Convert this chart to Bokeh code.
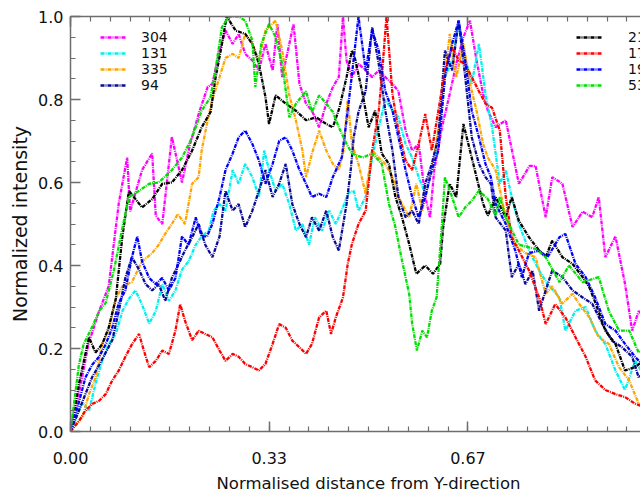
from bokeh.plotting import figure
from bokeh.models import (Range1d, FixedTicker, LinearAxis, Legend, LegendItem,
                          CustomJSTickFormatter, Title)
from bokeh.embed import file_html
from bokeh.resources import INLINE

# ---- profiles along the normalised distance (x) -------------------------
x_304 = [0.000, 0.014, 0.030, 0.048, 0.064, 0.081, 0.095, 0.100, 0.120, 0.137,
         0.143, 0.154, 0.170, 0.187, 0.200, 0.216, 0.230, 0.238, 0.250, 0.260,
         0.272, 0.282, 0.293, 0.305, 0.316, 0.327, 0.339, 0.347, 0.355, 0.367,
         0.374, 0.384, 0.395, 0.405, 0.417, 0.429, 0.440, 0.450, 0.457, 0.463,
         0.472, 0.483, 0.495, 0.506, 0.517, 0.528, 0.540, 0.550, 0.562, 0.573,
         0.584, 0.595, 0.603, 0.610, 0.623, 0.636, 0.647, 0.659, 0.670, 0.681,
         0.692, 0.700, 0.713, 0.730, 0.752, 0.770, 0.780, 0.797, 0.808, 0.825,
         0.842, 0.859, 0.875, 0.886, 0.897, 0.914, 0.930, 0.942, 0.953, 0.960]
y_304 = [0.000, 0.090, 0.210, 0.290, 0.350, 0.550, 0.660, 0.530, 0.630, 0.670,
         0.520, 0.500, 0.710, 0.600, 0.690, 0.770, 0.830, 0.838, 0.918, 0.966,
         0.934, 0.958, 0.910, 0.894, 0.870, 0.934, 0.870, 0.982, 0.854, 0.934,
         0.982, 0.838, 0.790, 0.773, 0.733, 0.790, 0.830, 0.854, 1.000, 0.894,
         0.854, 0.886, 0.870, 0.854, 0.870, 0.854, 0.838, 0.820, 0.725, 0.677,
         0.693, 0.565, 0.516, 0.630, 0.733, 0.813, 0.886, 0.950, 0.990, 0.894,
         0.813, 0.773, 0.733, 0.750, 0.597, 0.640, 0.640, 0.516, 0.613, 0.597,
         0.493, 0.530, 0.516, 0.565, 0.420, 0.470, 0.356, 0.243, 0.290, 0.280]

x_131 = [0.000, 0.020, 0.031, 0.042, 0.053, 0.064, 0.076, 0.087, 0.098, 0.109,
         0.120, 0.132, 0.143, 0.154, 0.165, 0.176, 0.187, 0.198, 0.210, 0.220,
         0.232, 0.240, 0.250, 0.260, 0.272, 0.282, 0.293, 0.305, 0.316, 0.325,
         0.333, 0.344, 0.355, 0.367, 0.378, 0.389, 0.400, 0.410, 0.422, 0.434,
         0.445, 0.457, 0.466, 0.475, 0.483, 0.495, 0.506, 0.517, 0.528, 0.540,
         0.550, 0.562, 0.573, 0.584, 0.595, 0.606, 0.617, 0.628, 0.640, 0.651,
         0.662, 0.673, 0.685, 0.696, 0.707, 0.720, 0.730, 0.740, 0.752, 0.769,
         0.786, 0.800, 0.820, 0.830, 0.847, 0.864, 0.880, 0.897, 0.914, 0.930,
         0.947, 0.960]
y_131 = [0.000, 0.070, 0.050, 0.115, 0.170, 0.210, 0.235, 0.290, 0.320, 0.340,
         0.306, 0.260, 0.290, 0.355, 0.315, 0.340, 0.390, 0.410, 0.450, 0.470,
         0.484, 0.532, 0.548, 0.532, 0.630, 0.597, 0.645, 0.613, 0.565, 0.677,
         0.630, 0.580, 0.597, 0.548, 0.484, 0.500, 0.450, 0.516, 0.484, 0.532,
         0.500, 0.540, 0.575, 0.580, 0.532, 0.565, 0.660, 0.733, 0.800, 0.773,
         0.757, 0.693, 0.660, 0.613, 0.573, 0.630, 0.693, 0.854, 0.894, 0.982,
         0.900, 0.838, 0.934, 0.813, 0.733, 0.597, 0.630, 0.565, 0.500, 0.436,
         0.388, 0.355, 0.323, 0.243, 0.291, 0.300, 0.243, 0.211, 0.147, 0.100,
         0.170, 0.140]

x_335 = [0.000, 0.020, 0.031, 0.042, 0.053, 0.064, 0.076, 0.087, 0.103, 0.120,
         0.137, 0.148, 0.159, 0.170, 0.180, 0.192, 0.204, 0.215, 0.220, 0.230,
         0.238, 0.250, 0.260, 0.272, 0.282, 0.293, 0.305, 0.316, 0.327, 0.344,
         0.355, 0.367, 0.378, 0.389, 0.395, 0.405, 0.417, 0.429, 0.440, 0.450,
         0.458, 0.465, 0.472, 0.483, 0.495, 0.506, 0.517, 0.528, 0.540, 0.550,
         0.568, 0.580, 0.590, 0.600, 0.610, 0.623, 0.636, 0.647, 0.659, 0.670,
         0.681, 0.692, 0.700, 0.713, 0.730, 0.746, 0.763, 0.780, 0.797, 0.808,
         0.825, 0.842, 0.853, 0.870, 0.886, 0.903, 0.920, 0.937, 0.953, 0.960]
y_335 = [0.000, 0.035, 0.090, 0.130, 0.210, 0.245, 0.320, 0.350, 0.360, 0.410,
         0.430, 0.450, 0.477, 0.500, 0.524, 0.500, 0.597, 0.613, 0.677, 0.750,
         0.800, 0.854, 0.900, 0.910, 0.900, 0.958, 0.934, 0.894, 0.966, 0.990,
         0.918, 0.810, 0.750, 0.677, 0.613, 0.670, 0.725, 0.677, 0.645, 0.630,
         0.677, 0.800, 0.693, 0.645, 0.573, 0.677, 0.660, 0.645, 0.613, 0.565,
         0.516, 0.597, 0.532, 0.597, 0.660, 0.790, 0.958, 0.854, 0.934, 0.838,
         0.773, 0.693, 0.660, 0.630, 0.516, 0.450, 0.430, 0.420, 0.332, 0.350,
         0.308, 0.332, 0.308, 0.275, 0.227, 0.211, 0.155, 0.123, 0.067, 0.060]

x_94 = [0.000, 0.014, 0.025, 0.036, 0.048, 0.059, 0.070, 0.081, 0.092, 0.103,
        0.115, 0.126, 0.137, 0.148, 0.159, 0.170, 0.180, 0.192, 0.204, 0.215,
        0.226, 0.238, 0.250, 0.260, 0.272, 0.282, 0.293, 0.305, 0.316, 0.327,
        0.339, 0.350, 0.361, 0.372, 0.384, 0.395, 0.405, 0.417, 0.429, 0.440,
        0.450, 0.463, 0.470, 0.475, 0.483, 0.495, 0.506, 0.517, 0.528, 0.540,
        0.550, 0.562, 0.573, 0.584, 0.595, 0.606, 0.617, 0.628, 0.640, 0.651,
        0.662, 0.673, 0.685, 0.696, 0.705, 0.713, 0.730, 0.740, 0.752, 0.763,
        0.775, 0.786, 0.797, 0.808, 0.825, 0.842, 0.859, 0.875, 0.892, 0.908,
        0.925, 0.942, 0.953, 0.960]
y_94 = [0.000, 0.050, 0.090, 0.130, 0.160, 0.190, 0.220, 0.290, 0.370, 0.420,
        0.390, 0.355, 0.340, 0.355, 0.315, 0.370, 0.400, 0.436, 0.468, 0.500,
        0.450, 0.420, 0.470, 0.580, 0.532, 0.548, 0.492, 0.532, 0.580, 0.630,
        0.565, 0.597, 0.645, 0.548, 0.500, 0.468, 0.516, 0.484, 0.532, 0.468,
        0.436, 0.548, 0.630, 0.709, 0.770, 0.820, 0.974, 0.886, 0.773, 0.677,
        0.565, 0.516, 0.532, 0.500, 0.597, 0.645, 0.709, 0.918, 0.870, 0.990,
        0.854, 0.709, 0.645, 0.613, 0.597, 0.516, 0.484, 0.372, 0.404, 0.355,
        0.388, 0.291, 0.340, 0.388, 0.372, 0.340, 0.323, 0.308, 0.259, 0.219,
        0.203, 0.180, 0.130, 0.140]

x_211 = [0.000, 0.015, 0.031, 0.042, 0.053, 0.064, 0.076, 0.087, 0.098, 0.109,
         0.120, 0.137, 0.154, 0.170, 0.187, 0.204, 0.220, 0.235, 0.243, 0.254,
         0.262, 0.277, 0.293, 0.305, 0.316, 0.327, 0.333, 0.344, 0.361, 0.378,
         0.395, 0.412, 0.429, 0.440, 0.451, 0.463, 0.472, 0.478, 0.490, 0.500,
         0.511, 0.522, 0.534, 0.545, 0.556, 0.568, 0.580, 0.595, 0.608, 0.620,
         0.625, 0.636, 0.647, 0.659, 0.670, 0.681, 0.692, 0.700, 0.713, 0.730,
         0.740, 0.752, 0.769, 0.786, 0.797, 0.808, 0.825, 0.842, 0.859, 0.870,
         0.881, 0.897, 0.914, 0.930, 0.947, 0.960]
y_211 = [0.000, 0.120, 0.227, 0.190, 0.210, 0.250, 0.320, 0.470, 0.580, 0.560,
         0.540, 0.560, 0.597, 0.600, 0.630, 0.677, 0.733, 0.770, 0.850, 0.934,
         1.000, 0.966, 0.958, 0.934, 0.886, 0.806, 0.741, 0.810, 0.790, 0.773,
         0.750, 0.757, 0.741, 0.733, 0.780, 0.854, 0.918, 0.894, 0.813, 0.733,
         0.773, 0.670, 0.645, 0.565, 0.516, 0.452, 0.380, 0.400, 0.380, 0.404,
         0.492, 0.597, 0.565, 0.741, 0.677, 0.613, 0.549, 0.520, 0.565, 0.516,
         0.565, 0.508, 0.468, 0.436, 0.420, 0.460, 0.420, 0.404, 0.372, 0.348,
         0.308, 0.243, 0.211, 0.147, 0.155, 0.170]

x_171 = [0.000, 0.014, 0.025, 0.036, 0.048, 0.059, 0.070, 0.081, 0.092, 0.103,
         0.115, 0.123, 0.132, 0.143, 0.154, 0.165, 0.176, 0.184, 0.192, 0.204,
         0.215, 0.226, 0.238, 0.250, 0.260, 0.272, 0.282, 0.293, 0.305, 0.316,
         0.327, 0.339, 0.350, 0.361, 0.372, 0.384, 0.395, 0.405, 0.417, 0.429,
         0.437, 0.445, 0.457, 0.465, 0.472, 0.483, 0.495, 0.506, 0.517, 0.522,
         0.530, 0.540, 0.550, 0.562, 0.573, 0.584, 0.595, 0.606, 0.617, 0.628,
         0.640, 0.651, 0.662, 0.673, 0.685, 0.696, 0.707, 0.720, 0.730, 0.740,
         0.752, 0.769, 0.786, 0.797, 0.813, 0.830, 0.847, 0.864, 0.880, 0.897,
         0.914, 0.930, 0.947, 0.960]
y_171 = [0.000, 0.025, 0.050, 0.066, 0.074, 0.090, 0.123, 0.147, 0.180, 0.210,
         0.235, 0.195, 0.155, 0.170, 0.195, 0.187, 0.243, 0.307, 0.267, 0.220,
         0.243, 0.235, 0.227, 0.195, 0.170, 0.187, 0.180, 0.163, 0.155, 0.147,
         0.163, 0.211, 0.259, 0.250, 0.219, 0.203, 0.187, 0.211, 0.275, 0.291,
         0.235, 0.275, 0.323, 0.404, 0.452, 0.500, 0.532, 0.677, 0.773, 0.854,
         1.000, 0.813, 0.725, 0.653, 0.630, 0.693, 0.765, 0.677, 0.773, 0.870,
         0.926, 0.894, 0.886, 0.854, 0.820, 0.790, 0.780, 0.725, 0.565, 0.468,
         0.436, 0.388, 0.323, 0.259, 0.307, 0.275, 0.227, 0.180, 0.123, 0.100,
         0.090, 0.083, 0.067, 0.060]

x_193 = [0.000, 0.014, 0.025, 0.036, 0.048, 0.059, 0.070, 0.081, 0.092, 0.103,
         0.112, 0.120, 0.132, 0.143, 0.154, 0.165, 0.176, 0.187, 0.198, 0.210,
         0.220, 0.229, 0.238, 0.250, 0.260, 0.272, 0.282, 0.293, 0.305, 0.316,
         0.327, 0.339, 0.350, 0.361, 0.372, 0.384, 0.395, 0.405, 0.417, 0.429,
         0.440, 0.450, 0.455, 0.463, 0.472, 0.483, 0.495, 0.506, 0.517, 0.528,
         0.540, 0.550, 0.562, 0.573, 0.584, 0.595, 0.606, 0.617, 0.628, 0.640,
         0.651, 0.662, 0.673, 0.685, 0.696, 0.705, 0.713, 0.730, 0.746, 0.757,
         0.769, 0.786, 0.800, 0.820, 0.830, 0.847, 0.864, 0.880, 0.897, 0.914,
         0.930, 0.947, 0.960]
y_193 = [0.000, 0.070, 0.130, 0.160, 0.180, 0.210, 0.250, 0.310, 0.340, 0.420,
         0.470, 0.410, 0.370, 0.355, 0.370, 0.340, 0.370, 0.470, 0.450, 0.516,
         0.470, 0.470, 0.500, 0.565, 0.630, 0.670, 0.709, 0.725, 0.693, 0.653,
         0.597, 0.645, 0.700, 0.709, 0.677, 0.630, 0.597, 0.565, 0.573, 0.565,
         0.613, 0.645, 0.660, 0.750, 0.860, 1.000, 0.870, 0.966, 0.918, 0.820,
         0.773, 0.709, 0.630, 0.565, 0.516, 0.565, 0.630, 0.677, 0.854, 0.934,
         0.990, 0.894, 0.773, 0.709, 0.645, 0.613, 0.549, 0.500, 0.436, 0.372,
         0.430, 0.436, 0.420, 0.468, 0.476, 0.404, 0.372, 0.323, 0.259, 0.243,
         0.211, 0.180, 0.160]

x_5303 = [0.000, 0.014, 0.022, 0.034, 0.048, 0.059, 0.073, 0.087, 0.098, 0.115,
          0.132, 0.148, 0.170, 0.187, 0.204, 0.220, 0.235, 0.243, 0.254, 0.265,
          0.282, 0.293, 0.305, 0.310, 0.320, 0.333, 0.344, 0.355, 0.367, 0.378,
          0.395, 0.405, 0.417, 0.429, 0.440, 0.450, 0.463, 0.472, 0.490, 0.506,
          0.522, 0.534, 0.545, 0.556, 0.568, 0.573, 0.581, 0.590, 0.598, 0.606,
          0.614, 0.623, 0.628, 0.640, 0.651, 0.662, 0.673, 0.685, 0.700, 0.713,
          0.720, 0.730, 0.752, 0.780, 0.797, 0.820, 0.836, 0.859, 0.886, 0.903,
          0.920, 0.937, 0.953, 0.960]
y_5303 = [0.000, 0.160, 0.210, 0.245, 0.290, 0.310, 0.390, 0.490, 0.565, 0.580,
          0.597, 0.600, 0.630, 0.660, 0.709, 0.773, 0.806, 0.870, 0.974, 1.000,
          1.000, 0.990, 0.942, 0.830, 0.934, 0.982, 0.950, 0.886, 0.757, 0.790,
          0.820, 0.770, 0.810, 0.790, 0.770, 0.733, 0.693, 0.670, 0.660, 0.670,
          0.645, 0.549, 0.492, 0.412, 0.332, 0.260, 0.195, 0.243, 0.227, 0.291,
          0.323, 0.500, 0.613, 0.565, 0.516, 0.540, 0.556, 0.580, 0.560, 0.520,
          0.565, 0.516, 0.450, 0.440, 0.420, 0.360, 0.400, 0.360, 0.372, 0.290,
          0.243, 0.243, 0.190, 0.200]

# ---- axis ticks -----------------------------------------------------------
X_TICKS = [0.0, 1 / 3, 2 / 3, 1.0]
X_TICK_LABELS = ["0.00", "0.33", "0.67", "1.00"]
X_MINOR = [i / 30 for i in range(31)]
Y_TICKS = [0.0, 0.2, 0.4, 0.6, 0.8, 1.0]
Y_TICK_LABELS = ["0.0", "0.2", "0.4", "0.6", "0.8", "1.0"]
Y_MINOR = [i / 20 for i in range(21)]

X_TITLE = "Normalised distance from Y-direction"
Y_TITLE = "Normalized intensity"

FONT = "DejaVu Sans"
TEXT = "#111111"
AXIS = "#6e6e6e"

p = figure(width=640, height=499, output_backend="svg", toolbar_location=None,
           x_range=Range1d(0, 0.956), y_range=Range1d(0, 1.0),
           min_border_left=70, min_border_right=0, min_border_top=16,
           min_border_bottom=68)
p.grid.visible = False
p.outline_line_color = None
p.background_fill_color = "white"
p.border_fill_color = "white"

label_js = """
for (let i = 0; i < vals.length; i++) {
  if (Math.abs(vals[i] - tick) < 1e-6) return labels[i];
}
return '';
"""


def style_axis(ax, ticks, minor, fmt):
    ax.ticker = FixedTicker(ticks=ticks, minor_ticks=minor)
    ax.formatter = fmt
    ax.axis_line_color = AXIS
    ax.axis_line_width = 1.5
    ax.major_tick_line_color = AXIS
    ax.minor_tick_line_color = AXIS
    ax.major_tick_line_width = 1.5
    ax.minor_tick_line_width = 1.2
    ax.major_tick_in = 10
    ax.major_tick_out = 0
    ax.minor_tick_in = 5
    ax.minor_tick_out = 0
    ax.major_label_text_font = FONT
    ax.major_label_text_font_size = "16px"
    ax.major_label_text_color = TEXT
    ax.axis_label_text_font = FONT
    ax.axis_label_text_font_style = "normal"
    ax.axis_label_text_color = TEXT


xfmt = CustomJSTickFormatter(args=dict(vals=X_TICKS, labels=X_TICK_LABELS), code=label_js)
yfmt = CustomJSTickFormatter(args=dict(vals=Y_TICKS, labels=Y_TICK_LABELS), code=label_js)

xa = p.xaxis[0]
style_axis(xa, X_TICKS, X_MINOR, xfmt)
xa.major_label_standoff = 20

ya = p.yaxis[0]
style_axis(ya, Y_TICKS, Y_MINOR, yfmt)
ya.axis_label = Y_TITLE
ya.axis_label_text_font_size = "19px"
ya.major_label_standoff = 7
ya.axis_label_standoff = 4

top = LinearAxis()
style_axis(top, X_TICKS, X_MINOR, CustomJSTickFormatter(code="return '';"))
top.major_label_text_font_size = "0px"
top.major_label_standoff = 0
p.add_layout(top, "above")

# x title, placed under the middle of the full 0..1 distance span
p.add_layout(Title(text=X_TITLE, align="left", offset=146, standoff=11,
                   text_font=FONT, text_font_size="16.5px", text_color=TEXT,
                   text_font_style="normal"), "below")

DASH = "4 1 1 1"
series = [
    ("304", x_304, y_304, "#ff00ff"),
    ("131", x_131, y_131, "#00f0f0"),
    ("335", x_335, y_335, "#ffa500"),
    ("94", x_94, y_94, "#0a0a96"),
    ("211", x_211, y_211, "#000000"),
    ("171", x_171, y_171, "#ff0000"),
    ("193", x_193, y_193, "#0000ff"),
    ("5303", x_5303, y_5303, "#00e000"),
]
rends = {}
for name, xs, ys, col in series:
    rends[name] = p.line(xs, ys, line_color=col, line_width=2.3, line_dash=DASH)


def make_legend(names, loc, standoff):
    lg = Legend(items=[LegendItem(label=n, renderers=[rends[n]]) for n in names],
                location=loc, orientation="vertical")
    lg.border_line_color = None
    lg.background_fill_alpha = 0
    lg.padding = 0
    lg.margin = 0
    lg.spacing = -1
    lg.glyph_width = 26
    lg.glyph_height = 14
    lg.label_height = 14
    lg.label_standoff = standoff
    lg.label_text_font = FONT
    lg.label_text_font_size = "14px"
    lg.label_text_color = TEXT
    lg.label_text_line_height = 1.0
    return lg


p.add_layout(make_legend(["304", "131", "335", "94"], (30, 338), 15))
p.add_layout(make_legend(["211", "171", "193", "5303"], (506, 338), 26))

open("out.html", "w").write(file_html(p, INLINE))
